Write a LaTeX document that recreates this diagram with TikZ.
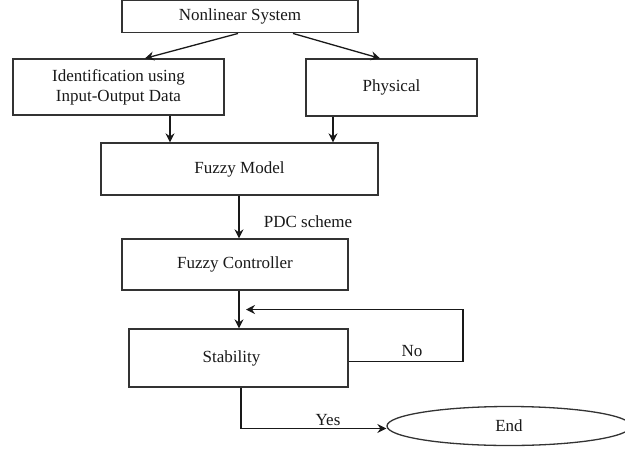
\documentclass[tikz,border=0pt]{standalone}
\usepackage{fontspec}
\setmainfont{Liberation Serif}
\usetikzlibrary{arrows.meta,shapes.geometric}
\begin{document}
\begin{tikzpicture}[x=1pt,y=-1pt,
  line width=1.3pt,
  every node/.style={text=black!90, font=\fontsize{17}{20}\selectfont},
  box/.style={draw=black!80, rectangle, inner sep=0pt, align=center},
  oval/.style={draw=black!80, ellipse, inner sep=0pt},
  lbl/.style={inner sep=0pt},
  arr/.style={draw=black!90, -{Stealth[length=9pt,width=9pt,inset=3pt]}},
  ln/.style={draw=black!90}]
\clip (0,0) rectangle (625,448);
\fill[white] (0,0) rectangle (625,448);
% boxes
\node[box, minimum width=236pt, minimum height=32pt] (ns) at (240,16.8) {Nonlinear System};
\node[box, minimum width=211pt, minimum height=56pt] (ident) at (118.5,87) {Identification using\\Input-Output Data};
\node[box, minimum width=171pt, minimum height=57pt] (phys) at (391.5,87.5) {Physical};
\node[box, minimum width=277pt, minimum height=52pt] (fm) at (239.5,169) {Fuzzy Model};
\node[box, minimum width=226pt, minimum height=51pt] (fc) at (235,264.5) {Fuzzy Controller};
\node[box, minimum width=219pt, minimum height=58pt] (stab) at (238.5,358) {\hspace*{-14pt}Stability};
\node[oval, minimum width=244pt, minimum height=39pt] (end) at (509,426) {End};
% labels
\node[lbl] (pdc) at (308,222) {PDC scheme};
\node[lbl] (no) at (412,351) {No};
\node[lbl] (yes) at (328,420) {Yes};
% connectors
\draw[arr] ([xshift=-2pt]ns.south) -- ([xshift=26.5pt]ident.north);
\draw[arr] ([xshift=53pt]ns.south) -- ([xshift=-11.5pt]phys.north);
\draw[arr] (ident.south -| 170,0) -- (fm.north -| 170,0);
\draw[arr] (phys.south -| 333,0) -- (fm.north -| 333,0);
\draw[arr] (fm.south -| 239,0) -- (fc.north -| 239,0);
\draw[arr] (fc.south -| 239,0) -- (stab.north -| 239,0);
\coordinate (fb) at (246,309.5);
\draw[arr] (stab.east |- 0,361.5) -- (463,361.5) -- (463,309.5) -- (fb);
\draw[arr] (stab.south -| 241,0) -- (241,428.5) -- (end.west |- 0,428.5);
\end{tikzpicture}
\end{document}
